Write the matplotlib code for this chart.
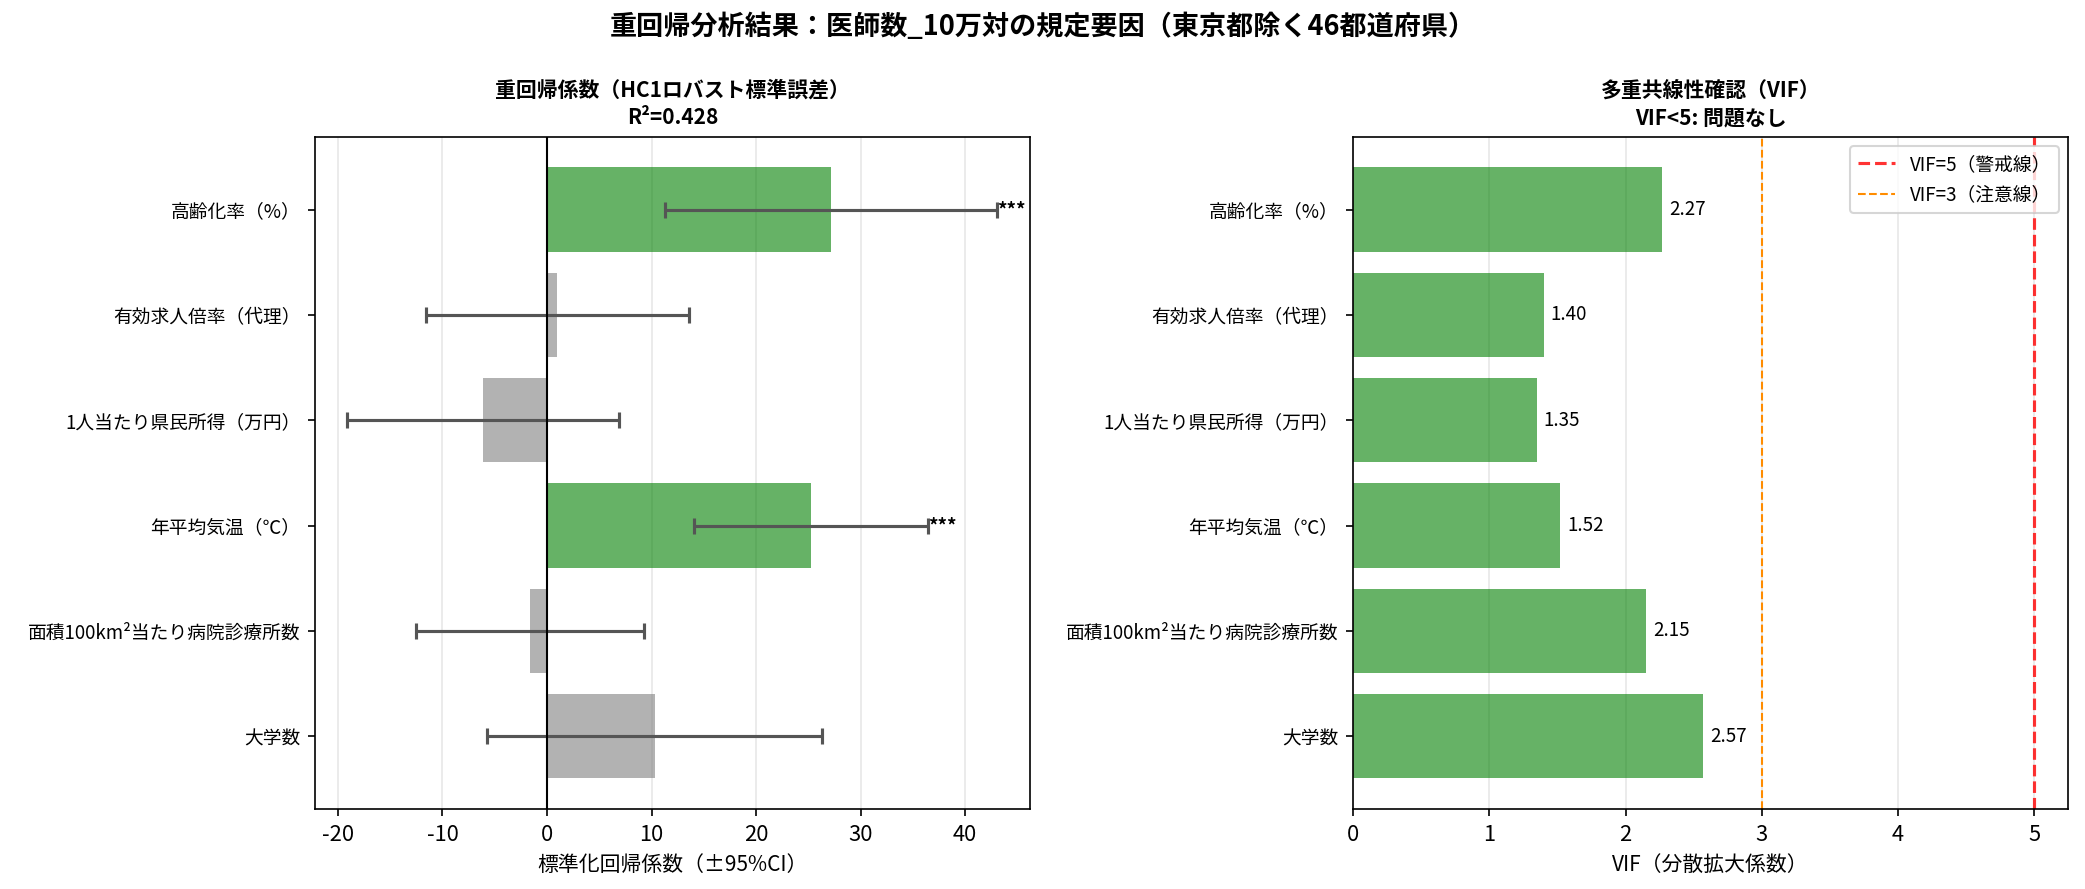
import matplotlib
matplotlib.use("Agg")
import matplotlib.pyplot as plt
import numpy as np

plt.rcParams["font.family"] = ["Noto Sans CJK JP", "DejaVu Sans"]
plt.rcParams["axes.unicode_minus"] = False

# Data (top-to-bottom order as shown)
variables = [
    "高齢化率（%）",
    "有効求人倍率（代理）",
    "1人当たり県民所得（万円）",
    "年平均気温（℃）",
    "面積100km²当たり病院診療所数",
    "大学数",
]
coefs = [27.2, 1.0, -6.1, 25.3, -1.6, 10.3]
ci_half = [15.9, 12.6, 13.0, 11.2, 10.9, 16.05]
significance = ["***", "", "", "***", "", ""]
vif_values = [2.27, 1.40, 1.35, 1.52, 2.15, 2.57]
r_squared = 0.428

fig = plt.figure(figsize=(13.9, 5.927), dpi=150)
ax1 = fig.add_axes([0.151, 0.090, 0.343, 0.756])
ax2 = fig.add_axes([0.649, 0.090, 0.343, 0.756])

y = np.arange(len(variables))

# =========================================================================
# Left: standardized coefficients with 95% CI
# =========================================================================
colors = ["green" if s else "gray" for s in significance]
ax1.barh(y, coefs, height=0.8, color=colors, alpha=0.6, zorder=2)
ax1.errorbar(
    coefs, y, xerr=ci_half, fmt="none", ecolor="#555555",
    elinewidth=1.5, capsize=4, capthick=1.5, zorder=3,
)
for yi, c, e, s in zip(y, coefs, ci_half, significance):
    if s:
        ax1.text(c + e, yi, s, ha="left", va="center", fontsize=9,
                 fontweight="bold", zorder=4)
ax1.axvline(0, color="black", linewidth=1, zorder=3)
ax1.set_yticks(y)
ax1.set_yticklabels(variables, fontsize=9)
ax1.tick_params(axis="x", labelsize=10.5)
ax1.invert_yaxis()
ax1.set_xlabel("標準化回帰係数（±95%CI）", fontsize=10)
ax1.set_title(f"重回帰係数（HC1ロバスト標準誤差）\nR²={r_squared:.3f}",
              fontsize=10, fontweight="bold", linespacing=1.4)
ax1.grid(axis="x", alpha=0.3, zorder=0)
ax1.set_axisbelow(True)

# =========================================================================
# Right: VIF
# =========================================================================
ax2.barh(y, vif_values, height=0.8, color="green", alpha=0.6, zorder=2)
for yi, v in zip(y, vif_values):
    ax2.text(v + 0.05, yi, f"{v:.2f}", ha="left", va="center", fontsize=9)
ax2.axvline(5, color="red", linestyle="--", linewidth=1.5, alpha=0.8,
            label="VIF=5（警戒線）")
ax2.axvline(3, color="darkorange", linestyle="--", linewidth=1,
            label="VIF=3（注意線）")
ax2.set_yticks(y)
ax2.set_yticklabels(variables, fontsize=9)
ax2.tick_params(axis="x", labelsize=10.5)
ax2.invert_yaxis()
ax2.set_xlabel("VIF（分散拡大係数）", fontsize=10)
ax2.set_title("多重共線性確認（VIF）\nVIF<5: 問題なし", fontsize=10,
              fontweight="bold", linespacing=1.4)
ax2.grid(axis="x", alpha=0.3, zorder=0)
ax2.set_axisbelow(True)
ax2.legend(loc="upper right", fontsize=9)

fig.suptitle("重回帰分析結果：医師数_10万対の規定要因（東京都除く46都道府県）",
             fontsize=13, fontweight="bold", y=0.985)

fig.savefig("out.png", dpi=150)
